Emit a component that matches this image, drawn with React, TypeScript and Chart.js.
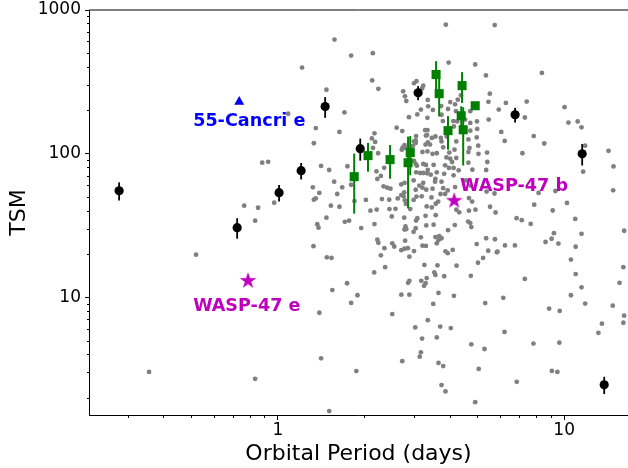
import React, { useEffect, useRef } from 'react';
import { Chart, registerables } from 'chart.js';

Chart.register(...registerables);

const FONT = "'DejaVu Sans', sans-serif";

// ---- axis ranges & ticks ----
const X_MIN = 0.219;
const X_MAX = 16.71;
const Y_MIN = 1.53;
const Y_MAX = 1000;
const xMajorTicks = [1, 10];
const xMinorTicks = [0.3, 0.4, 0.5, 0.6, 0.7, 0.8, 0.9, 2, 3, 4, 5, 6, 7, 8, 9];
const yMajorTicks = [10, 100, 1000];
const yMinorTicks = [2, 3, 4, 5, 6, 7, 8, 9, 20, 30, 40, 50, 60, 70, 80, 90, 200, 300, 400, 500, 600, 700, 800, 900];

// ---- gray background sample ----
const grayPeriod = [
  0.355, 0.518, 0.763, 0.853, 0.971, 0.833, 0.882, 0.925, 0.833, 1.086,
  1.215, 1.336, 1.416, 1.511, 1.750, 1.573, 1.325, 1.396, 1.336, 1.357,
  1.612, 1.678, 1.803, 1.532, 1.641, 1.852, 2.030, 2.106, 2.214, 1.478,
  1.373, 1.387, 1.714, 1.774, 1.955, 2.175, 2.454, 2.226, 2.290, 2.352,
  2.409, 2.474, 2.697, 2.623, 2.697, 2.763, 2.776, 2.449, 2.575, 2.763,
  3.04, 3.07, 2.81, 2.79, 3.03, 3.30, 3.50, 2.98, 3.05, 3.18,
  3.03, 3.12, 3.20, 3.30, 3.47, 3.22, 3.54, 2.98, 3.04, 3.14,
  3.22, 3.32, 3.42, 3.59, 3.55, 3.06, 3.03, 3.22, 3.29, 3.34,
  3.50, 2.99, 3.03, 2.99, 3.29, 3.55, 3.28, 3.34, 3.40, 3.20,
  3.33, 3.47, 3.59, 2.78, 3.28, 1.332, 2.226, 2.244, 2.356, 2.510,
  2.550, 2.784, 2.845, 3.16, 3.29, 3.59, 3.55, 3.66, 1.577, 1.803,
  2.147, 2.136, 2.244, 1.478, 1.708, 1.357, 1.641, 2.175, 2.13, 2.187,
  2.74, 2.78, 2.81, 2.99, 3.05, 3.22, 3.19, 3.34, 3.35, 3.48,
  3.16, 3.07, 2.87, 3.33, 2.60, 2.72, 3.27, 3.33, 3.32, 3.04,
  2.15, 2.24, 2.73, 2.71, 2.77, 2.96, 3.03, 3.45, 2.21, 2.34,
  2.77, 3.93, 4.19, 4.70, 3.73, 4.10, 4.23, 4.70, 5.45, 4.70,
  4.97, 4.95, 4.63, 5.01, 4.67, 4.63, 5.02, 5.38, 3.97, 4.20,
  4.14, 3.73, 3.78, 4.00, 4.06, 4.20, 3.88, 3.84, 3.96, 4.63,
  4.11, 4.28, 4.78, 5.39, 5.34, 3.81, 3.73, 4.11, 4.54, 4.72,
  4.16, 3.78, 3.92, 3.70, 3.84, 5.36, 5.71, 2.31, 2.75, 3.44,
  2.80, 2.90, 3.31, 3.45, 3.56, 3.63, 4.65, 4.77, 4.30, 4.20,
  4.65, 4.90, 5.51, 5.76, 2.50, 3.56, 2.77, 2.98, 3.93, 4.15,
  4.62, 4.70, 4.74, 3.73, 3.64, 2.70, 2.77, 3.20, 2.99, 2.88,
  2.29, 3.85, 3.92, 4.08, 4.95, 5.34, 5.73, 5.43, 5.82, 5.21,
  5.00, 3.25, 3.61, 4.21, 2.37, 2.17, 3.31, 3.52, 3.55, 3.81,
  4.72, 2.88, 2.85, 3.17, 3.28, 3.24, 1.483, 1.540, 1.745, 1.550,
  1.897, 1.803, 1.396, 2.70, 2.88, 3.64, 3.49, 2.51, 3.34, 3.02,
  3.19, 3.59, 3.16, 3.13, 1.416, 2.72, 1.88, 1.512, 3.64, 3.78,
  3.69, 3.73, 3.85, 4.02, 4.12, 4.74, 4.89, 5.03, 5.27, 5.30,
  6.13, 6.19, 6.83, 7.29, 7.81, 8.86, 9.06, 9.47, 9.65, 9.62,
  10.56, 10.97, 10.56, 10.97, 11.50, 11.50, 11.84, 13.17, 13.55, 14.78,
  15.61, 16.1, 16.2, 16.1, 16.2, 9.21, 9.04, 8.61, 9.55, 6.73,
  6.21, 5.85, 3.86, 5.72, 3.95, 4.89, 5.33, 8.36, 5.50, 5.44,
  6.26, 7.40, 10.03, 5.91, 7.29, 10.35, 11.15, 11.50, 6.03, 4.96,
  7.83, 4.00, 4.16, 4.25, 3.72, 3.77, 4.12, 4.51, 3.71, 3.89,
  4.36, 6.20, 8.52, 7.15, 11.84, 14.29, 14.87, 11.65, 14.83, 10.93,
  9.12, 10.23, 8.14, 7.86, 9.32, 6.82, 7.11, 7.64,
];
const grayTSM = [
  3.05, 19.9, 43.6, 42.2, 45.8, 34.3, 86.8, 88, 2.73, 190,
  398, 118.5, 82.4, 77.2, 82, 64.1, 58.5, 53.5, 48, 49,
  52.6, 58.5, 61, 43.6, 42.9, 47, 47.8, 40.3, 41, 36,
  32.4, 30.7, 33.7, 34.3, 30.5, 32.5, 41.3, 67, 70.2, 80,
  58.2, 57.3, 61.3, 49, 51.7, 54, 47.5, 48, 41.5, 36,
  34.4, 35.7, 30, 31.3, 30.4, 31.8, 32.2, 47.8, 50.5, 50.7,
  56.3, 60.2, 58.2, 56.4, 57.3, 62.9, 64.1, 65.4, 74.4, 73.6,
  73.6, 73.2, 71.7, 74.4, 66.9, 82.8, 85, 85, 83.7, 77.2,
  83.7, 89.2, 124, 122, 134, 132, 116, 120, 116, 103,
  104, 100, 101, 110, 37.1, 22.8, 25.3, 24.1, 22.1, 23.9,
  22.7, 24.9, 22.1, 26.3, 22.9, 23.9, 26.4, 26.8, 623, 482,
  501, 324, 283, 279, 194, 151, 142, 139, 128, 121,
  272, 251, 233, 310, 320, 298, 285, 237, 214, 202,
  203, 188, 180, 178, 152, 144, 146, 146, 135, 133,
  110, 101, 111, 107, 115, 113, 119, 129, 75.6, 59.5,
  62.8, 205, 198, 198, 187, 169, 168, 164, 173, 145,
  149, 130, 126, 114, 110, 103, 100, 102, 102, 122,
  107, 122, 111, 92.6, 87.8, 93.6, 94.5, 83.2, 79.8, 86.9,
  79.8, 76.8, 77.6, 87.8, 77.2, 72.6, 64.1, 70.9, 65.4, 60.2,
  58.8, 57.7, 55.7, 52.6, 52.6, 54.7, 53.0, 48.5, 50.7, 49.8,
  44.9, 41.3, 43.1, 42.4, 45.0, 46.6, 49.3, 46.6, 39.2, 40.9,
  40.3, 40.9, 42.9, 39.1, 36.7, 37.5, 29.8, 28.7, 29.5, 32.0,
  33.8, 33.0, 31.0, 25.9, 25.1, 21.4, 21.9, 23.0, 21.1, 19.3,
  19.7, 21.0, 20.4, 21.5, 23.6, 25.9, 25.5, 21.2, 20.7, 18.9,
  17.5, 16.9, 16.8, 16.7, 16.3, 15.0, 13.7, 15.0, 14.4, 14.1,
  14.2, 13.1, 12.7, 13.1, 12.6, 12.1, 19.1, 18.9, 12.6, 11.3,
  10.4, 9.2, 7.86, 10.5, 10.5, 10.8, 9.05, 7.7, 6.98, 6.22,
  5.2, 5.3, 4.17, 3.89, 3.79, 3.62, 3.09, 1.63, 3.52, 3.35,
  6.3, 2.47, 2.23, 6.15, 10.3, 4.74, 1.88, 3.2, 4.4, 9.18,
  9.99, 5.78, 2.6, 13.5, 4.8, 8.4, 3.1, 3.05, 8.1, 4.87,
  10.4, 14.6, 18.4, 22.6, 27.8, 11.8, 9.1, 5.7, 6.6, 8.8,
  12.7, 16.3, 7.5, 6.7, 29.2, 28.1, 25.7, 24.4, 23.8, 23.1,
  23.1, 20.9, 791, 786, 431, 418, 351, 365, 262, 230,
  226, 231, 211, 203, 179, 165, 168, 153, 142, 168,
  133, 229, 221, 238, 215, 169, 155, 173, 129, 132,
  255, 123, 118, 101, 114, 105, 81.8, 75.2, 55.8, 35.3,
  40.4, 45.6, 53.5, 44.3, 55.2, 35.7, 34.6, 32.6,
];

// ---- black points with error bars ----
const blackPeriod = [0.279, 0.721, 1.01, 1.206, 1.463, 1.94, 3.09, 6.74, 11.56, 13.8];
const blackTSM = [55.4, 30.7, 53.7, 76.4, 213, 108.7, 266, 187, 100, 2.48];
const blackErr = [8, 5, 7, 10, 35, 19, 30, 22, 17, 0.34];

// ---- green squares with error bars ----
const greenPeriod = [1.848, 2.065, 2.466, 2.85, 2.90, 3.57, 3.66, 3.93, 4.40, 4.37, 4.44, 4.89];
const greenTSM = [69.4, 97.2, 91.2, 86.8, 102, 356, 262, 145, 298, 184, 147, 216];
const greenErr = [31, 22, 24, 45, 31, 85, 80, 38, 72, 30, 64, 10];

// ---- highlighted planets ----
const cancriPeriod = [0.733];
const cancriTSM = [230];
const waspPeriod = [4.13, 0.787];
const waspTSM = [47.2, 13.1];

// ---- annotations ----
const labelText = ['55-Cancri e', 'WASP-47 b', 'WASP-47 e'];
const labelPeriod = [0.506, 4.33, 0.506];
const labelTSM = [157, 55.4, 8.02];
const labelColor = ['#0000ff', '#bf00bf', '#bf00bf'];

const pts = (xs: number[], ys: number[]) => xs.map((x, i) => ({ x, y: ys[i] }));

function makeStar(color: string, R: number): HTMLCanvasElement {
  const size = Math.ceil(2 * R + 2);
  const c = document.createElement('canvas');
  c.width = size;
  c.height = size;
  const ctx = c.getContext('2d')!;
  const cx = size / 2;
  const cy = size / 2;
  const r = R * 0.381966;
  ctx.beginPath();
  for (let i = 0; i < 10; i++) {
    const rad = i % 2 === 0 ? R : r;
    const a = -Math.PI / 2 + (i * Math.PI) / 5;
    const x = cx + rad * Math.cos(a);
    const y = cy + rad * Math.sin(a);
    if (i === 0) ctx.moveTo(x, y);
    else ctx.lineTo(x, y);
  }
  ctx.closePath();
  ctx.fillStyle = color;
  ctx.fill();
  return c;
}

const errorBarPlugin = {
  id: 'errorBars',
  beforeDatasetDraw(chart: any, args: any) {
    const ds = chart.data.datasets[args.index];
    if (!ds.errors) return;
    const { ctx } = chart;
    const xs = chart.scales.x;
    const ys = chart.scales.y;
    ctx.save();
    ctx.strokeStyle = ds.errorColor;
    ctx.lineWidth = ds.errorWidth;
    ds.data.forEach((p: any, i: number) => {
      const e = ds.errors[i];
      const px = xs.getPixelForValue(p.x);
      ctx.beginPath();
      ctx.moveTo(px, ys.getPixelForValue(Math.max(p.y - e, Y_MIN * 0.5)));
      ctx.lineTo(px, ys.getPixelForValue(p.y + e));
      ctx.stroke();
    });
    ctx.restore();
  },
};

const labelPlugin = {
  id: 'labels',
  afterDatasetsDraw(chart: any) {
    const { ctx } = chart;
    const xs = chart.scales.x;
    const ys = chart.scales.y;
    ctx.save();
    ctx.font = `bold 17.6px ${FONT}`;
    ctx.textAlign = 'left';
    ctx.textBaseline = 'alphabetic';
    labelText.forEach((t, i) => {
      ctx.fillStyle = labelColor[i];
      ctx.fillText(t, xs.getPixelForValue(labelPeriod[i]), ys.getPixelForValue(labelTSM[i]));
    });
    ctx.restore();
  },
};

const framePlugin = {
  id: 'frame',
  afterDraw(chart: any) {
    const { ctx, chartArea: a } = chart;
    const xs = chart.scales.x;
    const ys = chart.scales.y;
    ctx.save();
    ctx.strokeStyle = '#000';
    ctx.lineWidth = 1;
    // top spine
    ctx.beginPath();
    ctx.moveTo(a.left, a.top);
    ctx.lineTo(a.right, a.top);
    ctx.stroke();
    // left spine
    const lx = Math.floor(a.left) + 0.5;
    const by = Math.floor(a.bottom) + 0.5;
    ctx.beginPath();
    ctx.moveTo(lx, a.top);
    ctx.lineTo(lx, by + 0.5);
    ctx.stroke();
    // bottom spine
    ctx.beginPath();
    ctx.moveTo(a.left, by);
    ctx.lineTo(a.right, by);
    ctx.stroke();
    // x ticks
    const xt = (v: number, len: number) => {
      const px = Math.floor(xs.getPixelForValue(v)) + 0.5;
      ctx.beginPath();
      ctx.moveTo(px, by);
      ctx.lineTo(px, by + len);
      ctx.stroke();
    };
    xMajorTicks.forEach((v) => xt(v, 4.5));
    xMinorTicks.forEach((v) => xt(v, 2.5));
    // y ticks
    const yt = (v: number, len: number) => {
      const py = Math.floor(ys.getPixelForValue(v)) + 0.5;
      ctx.beginPath();
      ctx.moveTo(lx, py);
      ctx.lineTo(lx - len, py);
      ctx.stroke();
    };
    yMajorTicks.forEach((v) => yt(v, 4.5));
    yMinorTicks.forEach((v) => yt(v, 2.5));
    ctx.restore();
  },
};

const zeroPad = (s: any) => {
  s.paddingTop = 0;
  s.paddingBottom = 0;
  s.paddingLeft = 0;
  s.paddingRight = 0;
};

export default function App() {
  const ref = useRef<HTMLCanvasElement | null>(null);

  useEffect(() => {
    if (!ref.current) return;
    const star = makeStar('#bf00bf', 8.8);
    const chart = new Chart(ref.current, {
      type: 'scatter',
      data: {
        datasets: [
          {
            label: 'WASP-47',
            data: pts(waspPeriod, waspTSM),
            pointStyle: star as any,
            pointRadius: 8,
            backgroundColor: '#bf00bf',
            borderWidth: 0,
            order: 1,
          },
          {
            label: '55 Cancri e',
            data: pts(cancriPeriod, cancriTSM),
            pointStyle: 'triangle',
            pointRadius: 5.8,
            backgroundColor: '#0000ff',
            borderColor: '#0000ff',
            borderWidth: 0,
            order: 2,
          },
          {
            label: 'green',
            data: pts(greenPeriod, greenTSM),
            pointStyle: 'rect',
            pointRadius: 6.4,
            backgroundColor: '#008000',
            borderWidth: 0,
            order: 3,
            errors: greenErr,
            errorColor: '#008000',
            errorWidth: 2,
          } as any,
          {
            label: 'black',
            data: pts(blackPeriod, blackTSM),
            pointStyle: 'circle',
            pointRadius: 4.6,
            backgroundColor: '#000000',
            borderWidth: 0,
            order: 4,
            errors: blackErr,
            errorColor: '#000000',
            errorWidth: 1.8,
          } as any,
          {
            label: 'sample',
            data: pts(grayPeriod, grayTSM),
            pointStyle: 'circle',
            pointRadius: 2.4,
            backgroundColor: '#808080',
            borderWidth: 0,
            order: 5,
          },
        ],
      },
      options: {
        animation: false,
        responsive: false,
        events: [],
        layout: { autoPadding: false, padding: { top: 10, left: 0, right: 0, bottom: 0 } },
        plugins: { legend: { display: false }, tooltip: { enabled: false } },
        scales: {
          x: {
            type: 'logarithmic',
            position: 'bottom',
            min: X_MIN,
            max: X_MAX,
            grid: { display: false, drawTicks: false },
            border: { display: false },
            afterBuildTicks: (s: any) => {
              s.ticks = xMajorTicks.map((v) => ({ value: v }));
            },
            afterFit: (s: any) => {
              s.height = 53;
              zeroPad(s);
            },
            ticks: {
              callback: (v: any) => String(v),
              font: { family: FONT, size: 17, lineHeight: 1.15 },
              color: '#000',
              padding: 5.5,
              maxRotation: 0,
              autoSkip: false,
            },
            title: {
              display: true,
              text: 'Orbital Period (days)',
              font: { family: FONT, size: 22, lineHeight: 1.2 },
              color: '#000',
              padding: { top: 0, bottom: 1 },
            },
          },
          y: {
            type: 'logarithmic',
            position: 'left',
            min: Y_MIN,
            max: Y_MAX,
            grid: { display: false, drawTicks: false },
            border: { display: false },
            afterBuildTicks: (s: any) => {
              s.ticks = yMajorTicks.map((v) => ({ value: v }));
            },
            afterFit: (s: any) => {
              s.width = 89;
              zeroPad(s);
            },
            ticks: {
              callback: (v: any) => String(v),
              font: { family: FONT, size: 17, lineHeight: 1.15 },
              color: '#000',
              padding: 8,
              autoSkip: false,
            },
            title: {
              display: true,
              text: 'TSM',
              font: { family: FONT, size: 22, lineHeight: 1.2 },
              color: '#000',
              padding: { top: 6, bottom: 0 },
            },
          },
        },
      } as any,
      plugins: [errorBarPlugin, labelPlugin, framePlugin],
    });
    return () => chart.destroy();
  }, []);

  return (
    <div style={{ position: 'fixed', left: 0, top: 0, width: 628, height: 468, background: '#fff' }}>
      <canvas ref={ref} width={628} height={468} style={{ display: 'block', width: 628, height: 468 }} />
    </div>
  );
}
